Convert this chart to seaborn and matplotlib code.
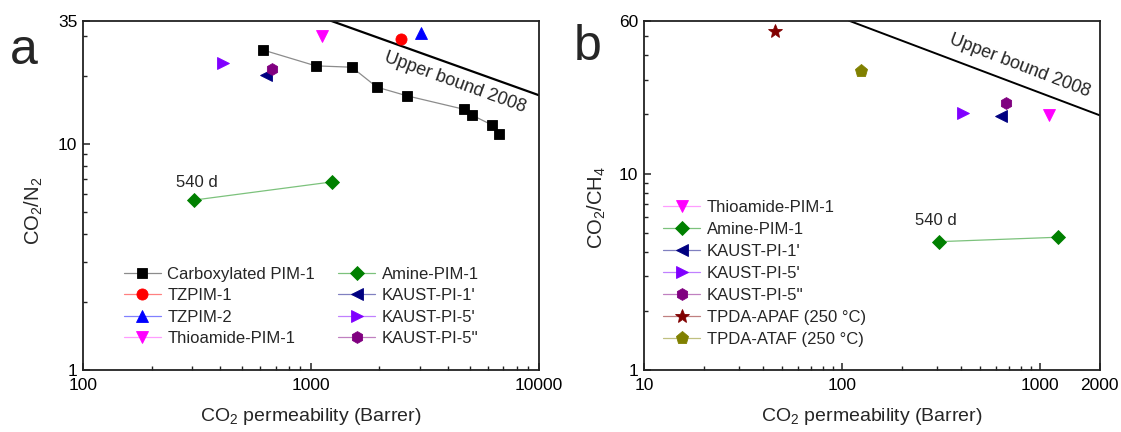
import numpy as np
import matplotlib
matplotlib.use("Agg")
import matplotlib.pyplot as plt
import seaborn as sns
from matplotlib.ticker import FixedLocator, FixedFormatter, LogLocator, NullFormatter

# ---------------- data ----------------
# Panel a: CO2/N2
carbox_x = [615, 1051, 1513, 1948, 2637, 4703, 5084, 6240, 6698]
carbox_y = [26.0, 22.1, 21.8, 17.8, 16.3, 14.2, 13.4, 12.1, 11.0]
tzpim1_a = ([2482], [29.1])
tzpim2_a = ([3046], [31.0])
thio_a = ([1117], [30.0])
amine_a = ([308, 1233], [5.64, 6.78])
kaust1_a = ([635], [20.1])
kaust5p_a = ([410], [22.7])
kaust5pp_a = ([676], [21.3])
bound_a = ([1221, 10000], [35, 16.4])

# Panel b: CO2/CH4
thio_b = ([1114], [19.9])
amine_b = ([307, 1225], [4.50, 4.74])
kaust1_b = ([634], [19.6])
kaust5p_b = ([407], [20.3])
kaust5pp_b = ([675], [22.8])
apaf_b = ([45.8], [53.2])
ataf_b = ([124], [33.3])
bound_b = ([108.4, 2000], [60, 19.8])

xt_a = [100, 1000, 10000]
xt_a_lab = ["100", "1000", "10000"]
yt_a = [1, 10, 35]
yt_a_lab = ["1", "10", "35"]
xt_b = [10, 100, 1000, 2000]
xt_b_lab = ["10", "100", "1000", "2000"]
yt_b = [1, 10, 60]
yt_b_lab = ["1", "10", "60"]

# ---------------- style ----------------
sns.set_theme(style="ticks")
plt.rcParams["font.family"] = ["Liberation Sans", "DejaVu Sans"]
plt.rcParams["mathtext.fontset"] = "custom"
plt.rcParams["mathtext.rm"] = "Liberation Sans"
plt.rcParams["mathtext.it"] = "Liberation Sans:italic"
plt.rcParams["mathtext.bf"] = "Liberation Sans:bold"

fig = plt.figure(figsize=(11.21, 4.32), dpi=100)
axA = fig.add_axes([0.0740, 0.1435, 0.4066, 0.8086])
axB = fig.add_axes([0.5745, 0.1435, 0.4065, 0.8086])

for ax in (axA, axB):
    ax.set_xscale("log")
    ax.set_yscale("log")


def draw(ax, xs, ys, label, marker, mcol, lcol, ms, lw=0.9):
    sns.lineplot(x=xs, y=ys, ax=ax, color=lcol, lw=lw, marker=marker,
                 markersize=ms, markerfacecolor=mcol, markeredgecolor=mcol,
                 markeredgewidth=0.6, label=label, estimator=None, sort=False,
                 legend=False)


# upper bounds
sns.lineplot(x=bound_a[0], y=bound_a[1], ax=axA, color="black", lw=1.6,
             estimator=None, sort=False, legend=False)
sns.lineplot(x=bound_b[0], y=bound_b[1], ax=axB, color="black", lw=1.4,
             estimator=None, sort=False, legend=False)

# panel a series
draw(axA, carbox_x, carbox_y, "Carboxylated PIM-1", "s", "#000000", "#8c8c8c", 7)
draw(axA, *tzpim1_a, "TZPIM-1", "o", "#FF0000", "#FF8080", 8)
draw(axA, *tzpim2_a, "TZPIM-2", "^", "#0000FF", "#8080FF", 8.5)
draw(axA, *thio_a, "Thioamide-PIM-1", "v", "#FF00FF", "#FF9CFF", 8.5)
draw(axA, *amine_a, "Amine-PIM-1", "D", "#008000", "#7cc27c", 7)
draw(axA, *kaust1_a, "KAUST-PI-1'", "<", "#000080", "#8080C0", 8.5)
draw(axA, *kaust5p_a, "KAUST-PI-5'", ">", "#8000FF", "#C080FF", 8.5)
draw(axA, *kaust5pp_a, "KAUST-PI-5''", "h", "#800080", "#C080C0", 8.5)

# panel b series
draw(axB, *thio_b, "Thioamide-PIM-1", "v", "#FF00FF", "#FF9CFF", 8.5)
draw(axB, *amine_b, "Amine-PIM-1", "D", "#008000", "#7cc27c", 7)
draw(axB, *kaust1_b, "KAUST-PI-1'", "<", "#000080", "#8080C0", 8.5)
draw(axB, *kaust5p_b, "KAUST-PI-5'", ">", "#8000FF", "#C080FF", 8.5)
draw(axB, *kaust5pp_b, "KAUST-PI-5''", "h", "#800080", "#C080C0", 8.5)
draw(axB, *apaf_b, "TPDA-APAF (250 °C)", "*", "#800000", "#C08080", 10.5)
draw(axB, *ataf_b, "TPDA-ATAF (250 °C)", "p", "#808000", "#C0C080", 9.5)

# axes formatting
def fmt(ax, xlim, ylim, xt, xtl, yt, ytl, ylabel):
    ax.set_xlim(*xlim)
    ax.set_ylim(*ylim)
    ax.xaxis.set_major_locator(FixedLocator(xt))
    ax.xaxis.set_major_formatter(FixedFormatter(xtl))
    ax.yaxis.set_major_locator(FixedLocator(yt))
    ax.yaxis.set_major_formatter(FixedFormatter(ytl))
    ax.xaxis.set_minor_locator(LogLocator(base=10, subs=np.arange(2, 10)))
    ax.yaxis.set_minor_locator(LogLocator(base=10, subs=np.arange(2, 10)))
    ax.xaxis.set_minor_formatter(NullFormatter())
    ax.yaxis.set_minor_formatter(NullFormatter())
    ax.tick_params(which="both", direction="in", top=False, right=False,
                   colors="#222222", labelcolor="black", labelsize=12.5)
    ax.tick_params(which="major", length=5, width=1.1)
    ax.tick_params(which="minor", length=3, width=1.0)
    ax.tick_params(axis="x", pad=6)
    ax.tick_params(axis="y", pad=4)
    for s in ax.spines.values():
        s.set_visible(True)
        s.set_color("#222222")
        s.set_linewidth(1.3)
    ax.set_xlabel("CO$_2$ permeability (Barrer)", fontsize=14)
    ax.set_ylabel(ylabel, fontsize=14.5)
    ax.xaxis.label.set_va("center")
    ax.yaxis.label.set_va("center")
    ax.grid(False)


fmt(axA, (100, 10000), (1, 35), xt_a, xt_a_lab, yt_a, yt_a_lab, "CO$_2$/N$_2$")
fmt(axB, (10, 2000), (1, 60), xt_b, xt_b_lab, yt_b, yt_b_lab, "CO$_2$/CH$_4$")
axA.yaxis.set_label_coords(-0.107, 0.455)
axB.yaxis.set_label_coords(-0.103, 0.464)
axA.xaxis.set_label_coords(0.5, -0.1345)
axB.xaxis.set_label_coords(0.5, -0.1345)

# annotations
axA.text(315, 6.75, "540 d", ha="center", va="center", fontsize=12)
axB.text(299, 5.76, "540 d", ha="center", va="center", fontsize=12)
axA.text(4281, 18.56, "Upper bound 2008", ha="center", va="center",
         rotation=-20, rotation_mode="anchor", fontsize=13)
axB.text(794, 35.4, "Upper bound 2008", ha="center", va="center",
         rotation=-21, rotation_mode="anchor", fontsize=13)

# legends
hA, lA = axA.get_legend_handles_labels()
axA.legend(hA, lA, loc="upper left", bbox_to_anchor=(0.09, 0.295), ncol=2,
           frameon=False, fontsize=12, handlelength=2.2, handletextpad=0.4,
           columnspacing=1.4, labelspacing=0.38, borderpad=0, borderaxespad=0)
hB, lB = axB.get_legend_handles_labels()
axB.legend(hB, lB, loc="upper left", bbox_to_anchor=(0.0424, 0.487), ncol=1,
           frameon=False, fontsize=12, handlelength=2.2, handletextpad=0.4,
           labelspacing=0.42, borderpad=0, borderaxespad=0)

# panel letters
fig.text(0.009, 0.852, "a", fontsize=36, ha="left", va="baseline")
fig.text(0.512, 0.861, "b", fontsize=36, ha="left", va="baseline")

fig.savefig("out.png", dpi=100)
